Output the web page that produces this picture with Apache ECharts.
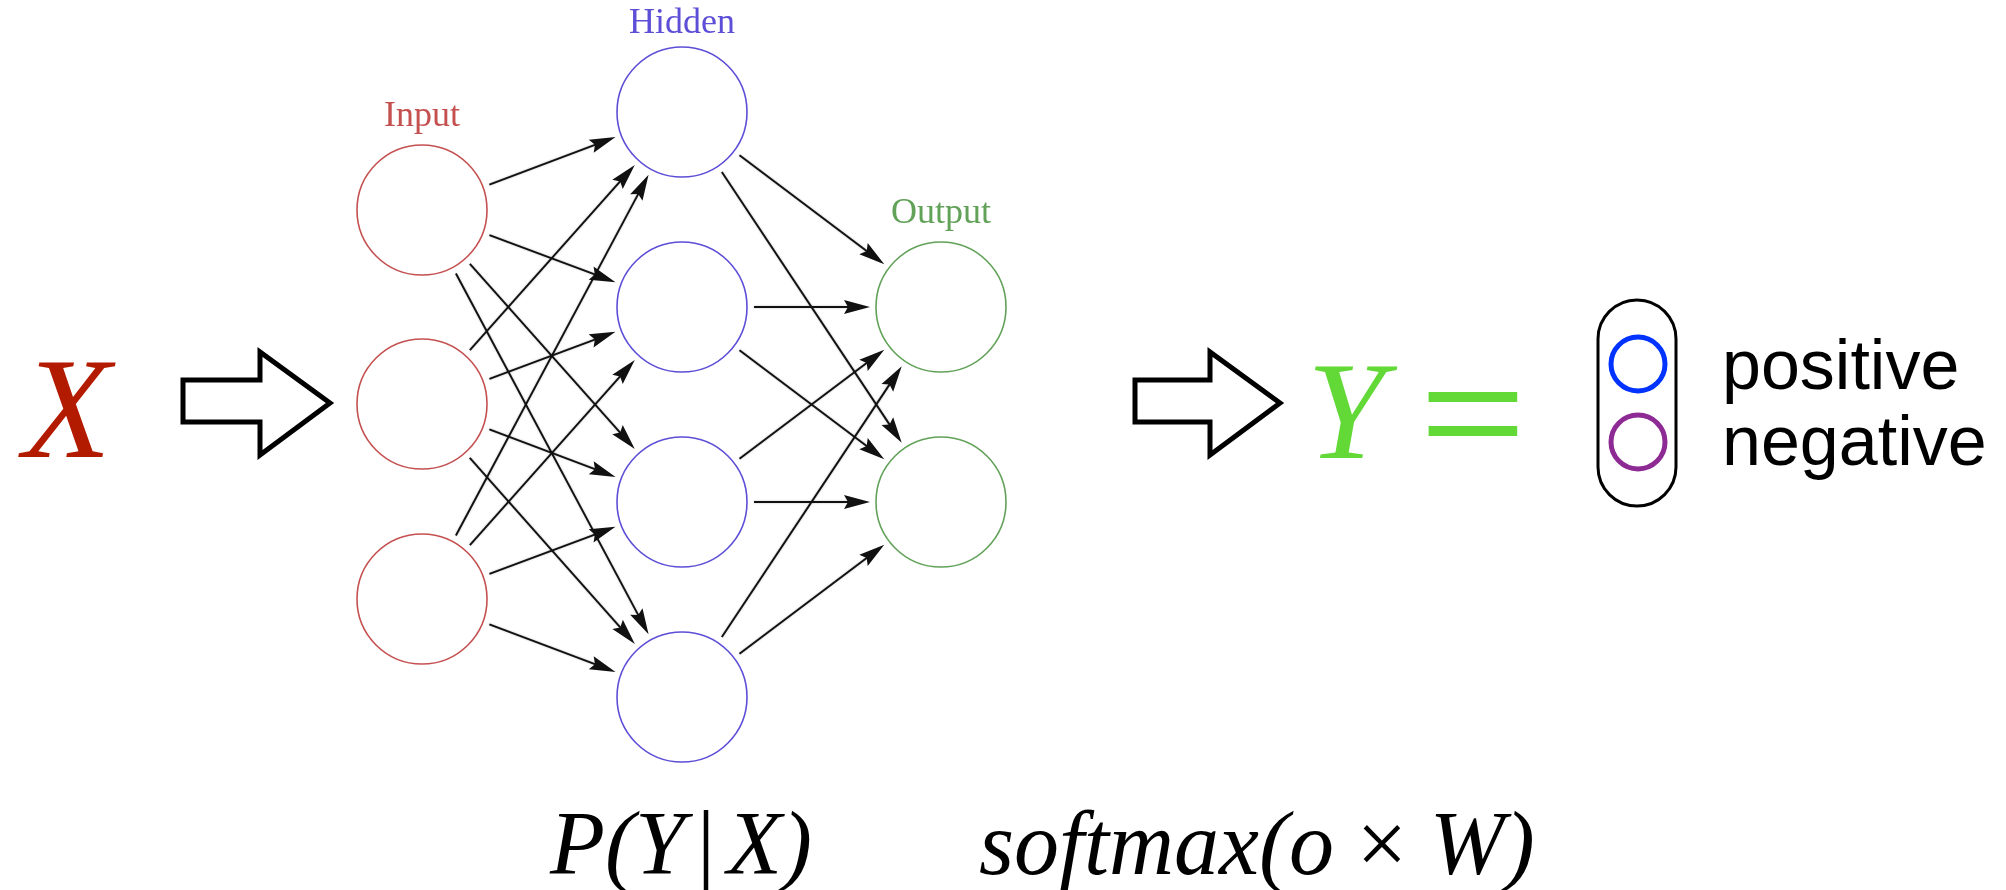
<!DOCTYPE html>
<html>
<head>
<meta charset="utf-8">
<script src="https://cdn.jsdelivr.net/npm/echarts@6/dist/echarts.min.js"></script>
<style>
  html, body { margin: 0; padding: 0; background: #fff; }
  #chart { width: 2006px; height: 890px; }
</style>
</head>
<body>
<div id="chart"></div>
<script>
// layers of the network
const layerNames = ['Input', 'Hidden', 'Output']
const layerX = [422, 682, 941]
const inputY = [210, 404, 599]
const hiddenY = [112, 307, 502, 697]
const outputY = [307, 502]
const layerColors = ['#B52424', '#3322CC', '#3A8A2E']

// text bits
const inputSymbol = 'X'
const outputSymbol = 'Y'
const classNames = ['positive', 'negative']
const classColors = ['#0033FF', '#8E2A94']
const formulaTexts = ['P(Y{sp|\u00a0}{bar||}{sp|\u00a0}X)', 'softmax(o {up|×} W)']

const NODE_R = 65
const START_GAP = 72
const TIP_GAP = 71
const HEAD = 30

const chart = echarts.init(document.getElementById('chart'))

function makeNodes(ys, li) {
  return ys.map((y, i) => ({
    value: [layerX[li], y],
    label: { show: i === 0 }
  }))
}

// fully connected links, shortened so they stop at the circles
function makeLinks(ysA, la, ysB, lb) {
  const out = []
  ysA.forEach(ya => {
    ysB.forEach(yb => {
      const x1 = layerX[la]
      const x2 = layerX[lb]
      const dx = x2 - x1
      const dy = yb - ya
      const len = Math.sqrt(dx * dx + dy * dy)
      const ux = dx / len
      const uy = dy / len
      out.push({
        coords: [
          [x1 + ux * START_GAP, ya + uy * START_GAP],
          [x2 - ux * (TIP_GAP + HEAD / 2), yb - uy * (TIP_GAP + HEAD / 2)]
        ]
      })
    })
  })
  return out
}

const links = makeLinks(inputY, 0, hiddenY, 1).concat(makeLinks(hiddenY, 1, outputY, 2))

const layerSeries = [inputY, hiddenY, outputY].map((ys, li) => ({
  type: 'scatter',
  name: layerNames[li],
  z: 3,
  symbol: 'circle',
  symbolSize: NODE_R * 2,
  itemStyle: {
    color: '#fff',
    borderColor: layerColors[li],
    borderWidth: 1.6
  },
  label: {
    position: 'top',
    distance: li === 1 ? 5 : 10,
    formatter: layerNames[li],
    color: layerColors[li],
    fontFamily: 'Liberation Serif',
    fontSize: 36
  },
  emphasis: { disabled: true },
  data: makeNodes(ys, li)
}))

chart.setOption({
  backgroundColor: '#fff',
  animation: false,
  grid: { left: 0, right: 0, top: 0, bottom: 0 },
  xAxis: { type: 'value', min: 0, max: 2006, show: false },
  yAxis: { type: 'value', min: 0, max: 890, inverse: true, show: false },
  series: [
    {
      type: 'lines',
      coordinateSystem: 'cartesian2d',
      z: 2,
      // arrow head: tip on top, padded to a square box
      symbol: ['none', 'path://M0,0M30,30M15,0L22,26L15,22L8,26Z'],
      symbolSize: HEAD,
      lineStyle: {
        color: '#111',
        width: 1.9,
        opacity: 1,
        shadowBlur: 2,
        shadowColor: 'rgba(0,0,0,0.3)'
      },
      silent: true,
      data: links
    }
  ].concat(layerSeries),
  graphic: [
    // X
    {
      type: 'text', x: 67, y: 419,
      style: {
        text: inputSymbol, align: 'center', verticalAlign: 'middle',
        font: 'italic 144px "Liberation Serif"', fill: '#B31B00'
      }
    },
    // hollow arrows
    {
      type: 'polygon',
      shape: { points: [[183, 380], [260, 380], [260, 352], [330, 403], [260, 455], [260, 422], [183, 422]] },
      style: { fill: '#fff', stroke: '#000', lineWidth: 5, lineJoin: 'miter' }
    },
    {
      type: 'polygon',
      shape: { points: [[1135, 380], [1210, 380], [1210, 352], [1280, 403], [1210, 455], [1210, 422], [1135, 422]] },
      style: { fill: '#fff', stroke: '#000', lineWidth: 5, lineJoin: 'miter' }
    },
    // Y =
    {
      type: 'text', x: 1346, y: 421,
      style: {
        text: outputSymbol, align: 'center', verticalAlign: 'middle',
        font: 'italic 140px "Liberation Serif"', fill: '#62D936'
      }
    },
    {
      type: 'text', x: 1473, y: 421, scaleX: 1.33,
      style: {
        text: '=', align: 'center', verticalAlign: 'middle',
        font: '137px "Liberation Sans"', fill: '#62D936'
      }
    },
    // class capsule
    {
      type: 'rect',
      shape: { x: 1598, y: 300, width: 78, height: 206, r: 39 },
      style: { fill: 'none', stroke: '#000', lineWidth: 3 }
    },
    {
      type: 'circle',
      shape: { cx: 1638, cy: 364, r: 27 },
      style: { fill: 'none', stroke: classColors[0], lineWidth: 5 }
    },
    {
      type: 'circle',
      shape: { cx: 1638, cy: 442, r: 27 },
      style: { fill: 'none', stroke: classColors[1], lineWidth: 5 }
    },
    {
      type: 'text', x: 1722, y: 370,
      style: {
        text: classNames[0], align: 'left', verticalAlign: 'middle',
        font: '70px "Liberation Sans"', fill: '#000'
      }
    },
    {
      type: 'text', x: 1722, y: 446,
      style: {
        text: classNames[1], align: 'left', verticalAlign: 'middle',
        font: '70px "Liberation Sans"', fill: '#000'
      }
    },
    // formulas
    {
      type: 'text', x: 550, y: 850,
      style: {
        text: formulaTexts[0], align: 'left', verticalAlign: 'middle',
        font: 'italic 90px "Liberation Serif"', fill: '#000',
        rich: {
          bar: { font: '90px "Liberation Serif"', fill: '#000' },
          sp: { font: '48px "Liberation Serif"', fill: '#000' }
        }
      }
    },
    {
      type: 'text', x: 979, y: 850,
      style: {
        text: formulaTexts[1], align: 'left', verticalAlign: 'middle',
        font: 'italic 90px "Liberation Serif"', fill: '#000',
        rich: {
          up: { font: '90px "Liberation Serif"', fill: '#000' }
        }
      }
    }
  ]
})
</script>
</body>
</html>
